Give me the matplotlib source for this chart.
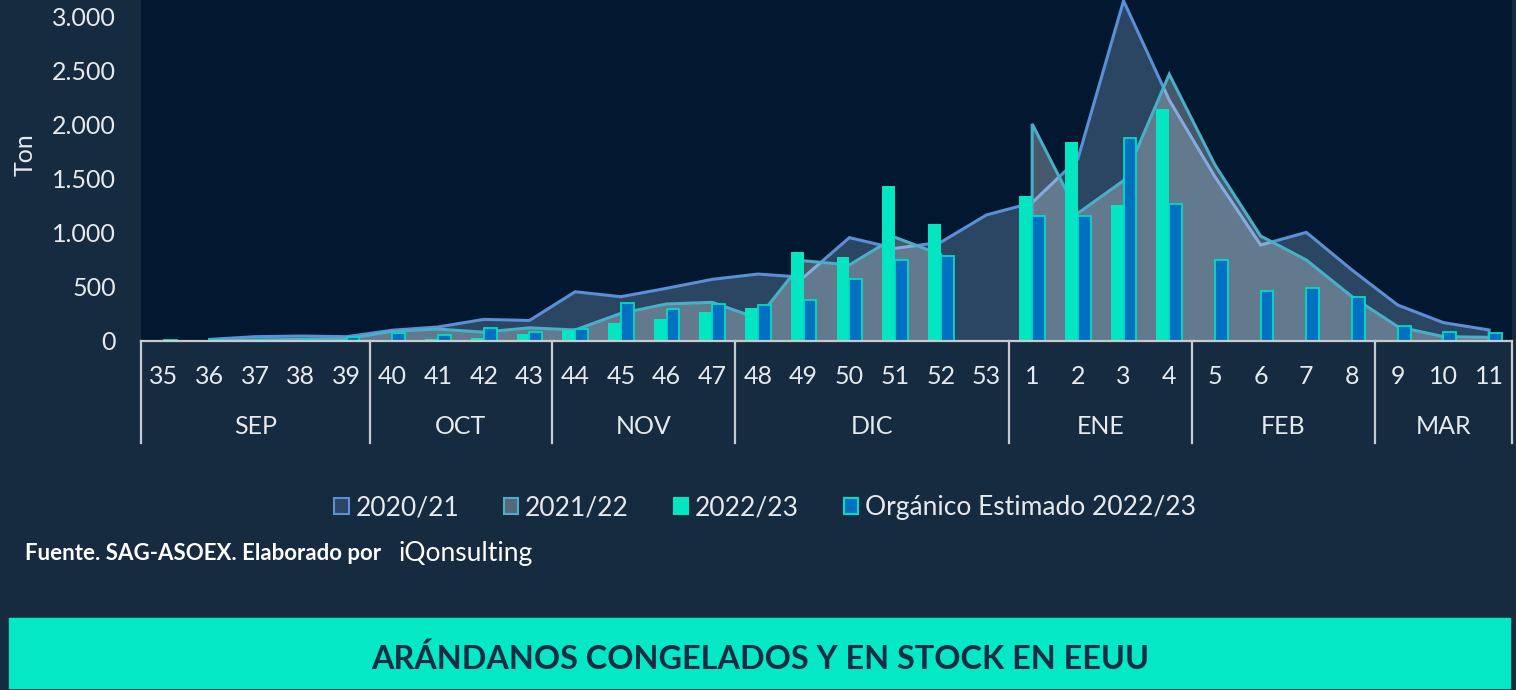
import numpy as np
import matplotlib.pyplot as plt
import matplotlib.transforms as mtransforms
from matplotlib.patches import Patch, Rectangle
from matplotlib.ticker import FuncFormatter

plt.rcParams['font.family'] = ['Lato', 'DejaVu Sans']

# semanas (eje x) y meses
weeks = ['35', '36', '37', '38', '39', '40', '41', '42', '43', '44', '45', '46', '47',
         '48', '49', '50', '51', '52', '53', '1', '2', '3', '4', '5', '6', '7', '8',
         '9', '10', '11']
months = ['SEP', 'OCT', 'NOV', 'DIC', 'ENE', 'FEB', 'MAR']
month_sizes = [5, 4, 4, 6, 4, 4, 3]

nan = np.nan
# temporadas (areas), ton
s2020 = [nan, 15, 40, 46, 40, 100, 130, 200, 190, 456, 410, 488, 571,
         620, 590, 957, 858, 914, 1167, 1280, 1685, 3150, 2231, 1521, 889, 1006, 657,
         333, 170, 102]
s2021 = [nan, 5, 10, 15, 20, 90, 110, 82, 122, 102, 256, 343, 358,
         210, 743, 704, 960, 800, nan, 2010, 1182, 1485, 2470, 1630, 972, 750, 410,
         133, 40, 34]
# barras
s2022 = [0, 0, 0, 0, 0, 0, 15, 31, 65, 100, 164, 201, 266,
         302, 824, 781, 1435, 1083, 0, 1343, 1846, 1259, 2148, 0, 0, 0, 0,
         0, 0, 0]
organico = [5, 8, 5, 5, 34, 71, 59, 120, 86, 111, 355, 299, 340,
            330, 377, 577, 750, 787, nan, 1157, 1157, 1883, 1265, 750, 463, 488, 404,
            139, 83, 71]

BG = '#172b40'
PLOT_BG = '#011830'
TXT = '#e6eaee'

fig = plt.figure(figsize=(15.16, 6.9), dpi=100, facecolor=BG)
ax = fig.add_axes([141 / 1516, 349 / 690, 1371 / 1516, 341 / 690])
ax.set_facecolor(PLOT_BG)

x = np.arange(len(weeks))


def runs(vals):
    v = np.array(vals, dtype=float)
    ok = ~np.isnan(v)
    out = []
    i = 0
    while i < len(v):
        if ok[i]:
            j = i
            while j < len(v) and ok[j]:
                j += 1
            out.append((x[i:j], v[i:j]))
            i = j
        else:
            i += 1
    return out


def area(vals, fill, alpha, edge, z):
    v = np.array(vals, dtype=float)
    ax.fill_between(x, 0, v, facecolor=fill, alpha=alpha, lw=0, zorder=z)
    for xs, ys in runs(vals):
        xx = np.concatenate([[xs[0]], xs, [xs[-1]]])
        yy = np.concatenate([[0], ys, [0]])
        ax.plot(xx, yy, color=edge, lw=2.2, zorder=z + 0.5, solid_joinstyle='miter')


area(s2020, '#2b4662', 1.0, '#5b8fd6', 1)
area(s2021, '#e4f0f5', 0.3, '#4aaec6', 3)

w = 0.28
ax.bar(x - w / 2, s2022, w, color='#03e6c1', lw=0, zorder=5)
ax.bar(x + w / 2, organico, w, color='#0070c0', edgecolor='#00dcc8', lw=1.3, zorder=5)

ax.set_xlim(-0.5, len(weeks) - 0.5)
ax.set_ylim(0, 3157.4)
ax.set_yticks(np.arange(0, 3001, 500))
ax.yaxis.set_major_formatter(FuncFormatter(lambda v, p: f'{int(v):,}'.replace(',', '.')))
ax.tick_params(axis='y', length=0, pad=18, labelsize=18, labelcolor=TXT)
ax.set_xticks([])
for s in ['top', 'right', 'left']:
    ax.spines[s].set_visible(False)
ax.spines['bottom'].set_color('#c6cbd0')
ax.spines['bottom'].set_linewidth(1.6)
ax.spines['bottom'].set_zorder(6)

trans = mtransforms.blended_transform_factory(ax.transData, ax.transAxes)
for i, wk in enumerate(weeks):
    ax.text(i, -35 / 341, wk, transform=trans, ha='center', va='center',
            fontsize=18, color=TXT)

edges = np.concatenate([[0], np.cumsum(month_sizes)]) - 0.5
for e in edges:
    ax.plot([e, e], [0, -102 / 341], transform=trans, color='#c6cbd0', lw=1.6,
            clip_on=False)
for m, a, b in zip(months, edges[:-1], edges[1:]):
    ax.text((a + b) / 2, -86 / 341, m, transform=trans, ha='center', va='center',
            fontsize=18, color=TXT)

fig.text(25 / 1516, 1 - 155 / 690, 'Ton', rotation=90, ha='center', va='center',
         fontsize=18, color=TXT)

handles = [Patch(facecolor='#2b4662', edgecolor='#5b8fd6', lw=1.5, label='2020/21'),
           Patch(facecolor='#55697d', edgecolor='#4aaec6', lw=1.5, label='2021/22'),
           Patch(facecolor='#03e6c1', edgecolor='#03e6c1', lw=1.5, label='2022/23'),
           Patch(facecolor='#0070c0', edgecolor='#00dcc8', lw=1.5,
                 label='Orgánico Estimado 2022/23')]
leg = fig.legend(handles=handles, loc='center', bbox_to_anchor=(765 / 1516, 1 - 508 / 690),
                 ncol=4, frameon=False, fontsize=19, handlelength=0.55, handleheight=0.55,
                 handletextpad=0.25, columnspacing=1.7, labelcolor=TXT)

fig.text(25 / 1516, 1 - 553 / 690, 'Fuente. SAG-ASOEX. Elaborado por', ha='left',
         va='center', fontsize=16, fontweight='bold', color='white')
fig.text(398 / 1516, 1 - 553 / 690, 'iQonsulting', ha='left', va='center',
         fontsize=19, color='white')

fig.patches.append(Rectangle((8 / 1516, 0), 1504 / 1516, 73 / 690, transform=fig.transFigure,
                             facecolor='#05e8c5', edgecolor='#12303a', lw=1.2))
fig.text(760 / 1516, 1 - 659 / 690, 'ARÁNDANOS CONGELADOS Y EN STOCK EN EEUU',
         ha='center', va='center', fontsize=23.3, fontweight='bold', color='#1a2b45')

fig.savefig('out.png', dpi=100, facecolor=BG)
